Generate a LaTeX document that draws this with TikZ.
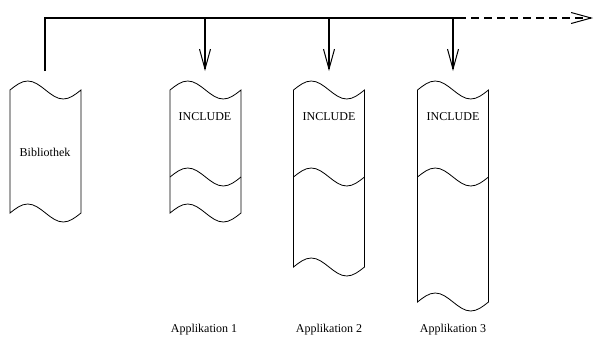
\documentclass[tikz,border=0pt]{standalone}
\usepackage{fontspec}
\setmainfont{Liberation Serif}
\usetikzlibrary{arrows.meta}

% tape with wavy top and bottom: centre x, top y, bottom y
\newcommand{\tape}[3]{\draw (#1-35.5,#2) sin ++(17.75,-9) cos ++(17.75,9) sin ++(17.75,9) cos ++(17.75,-9)
    -- (#1+35.5,#3) sin ++(-17.75,9) cos ++(-17.75,-9) sin ++(-17.75,-9) cos ++(-17.75,9) -- cycle;}
\newcommand{\seam}[2]{\draw (#1-35.5,#2) sin ++(17.75,-9) cos ++(17.75,9) sin ++(17.75,9) cos ++(17.75,-9);}

\begin{document}
\begin{tikzpicture}[x = 1pt, y = -1pt, line width = 0.8pt, font = \fontsize{12}{14}\selectfont,
    bus/.style = {line width = 1.3pt},
    drop/.style = {line width = 1.3pt, -{Straight Barb[length = 20pt, width = 11pt, line width = 1pt]}}]
\useasboundingbox (0,0) rectangle (596,338);
\coordinate (b0) at (45,18);
\coordinate (b1) at (205,18);
\coordinate (b2) at (329,18);
\coordinate (b3) at (453,18);
\coordinate (b4) at (458,18);
\coordinate (bend) at (593,18);
\coordinate (t0) at (45,71);
\coordinate (t1) at (205,71);
\coordinate (t2) at (329,71);
\coordinate (t3) at (453,71);
\tape{45.5}{90}{213}
\tape{205.5}{90}{213}
\tape{329}{90}{267}
\tape{453}{90}{302}
\seam{205.5}{177}
\seam{329}{177}
\seam{453}{177}
\draw (45,152) node(bib){Bibliothek}
    (205,117) node(inc1){INCLUDE}
    (329,117) node(inc2){INCLUDE}
    (453,117) node(inc3){INCLUDE}
    (204,330) node(app1){Applikation 1}
    (329,330) node(app2){Applikation 2}
    (453,330) node(app3){Applikation 3};
\draw [bus] (t0) -- (b0) -- (b4);
\draw [drop, dash pattern = on 8pt off 5pt] (b4) -- (bend);
\foreach \i in {1,2,3}
    \draw [drop] (b\i) -- (t\i);
\end{tikzpicture}
\end{document}
